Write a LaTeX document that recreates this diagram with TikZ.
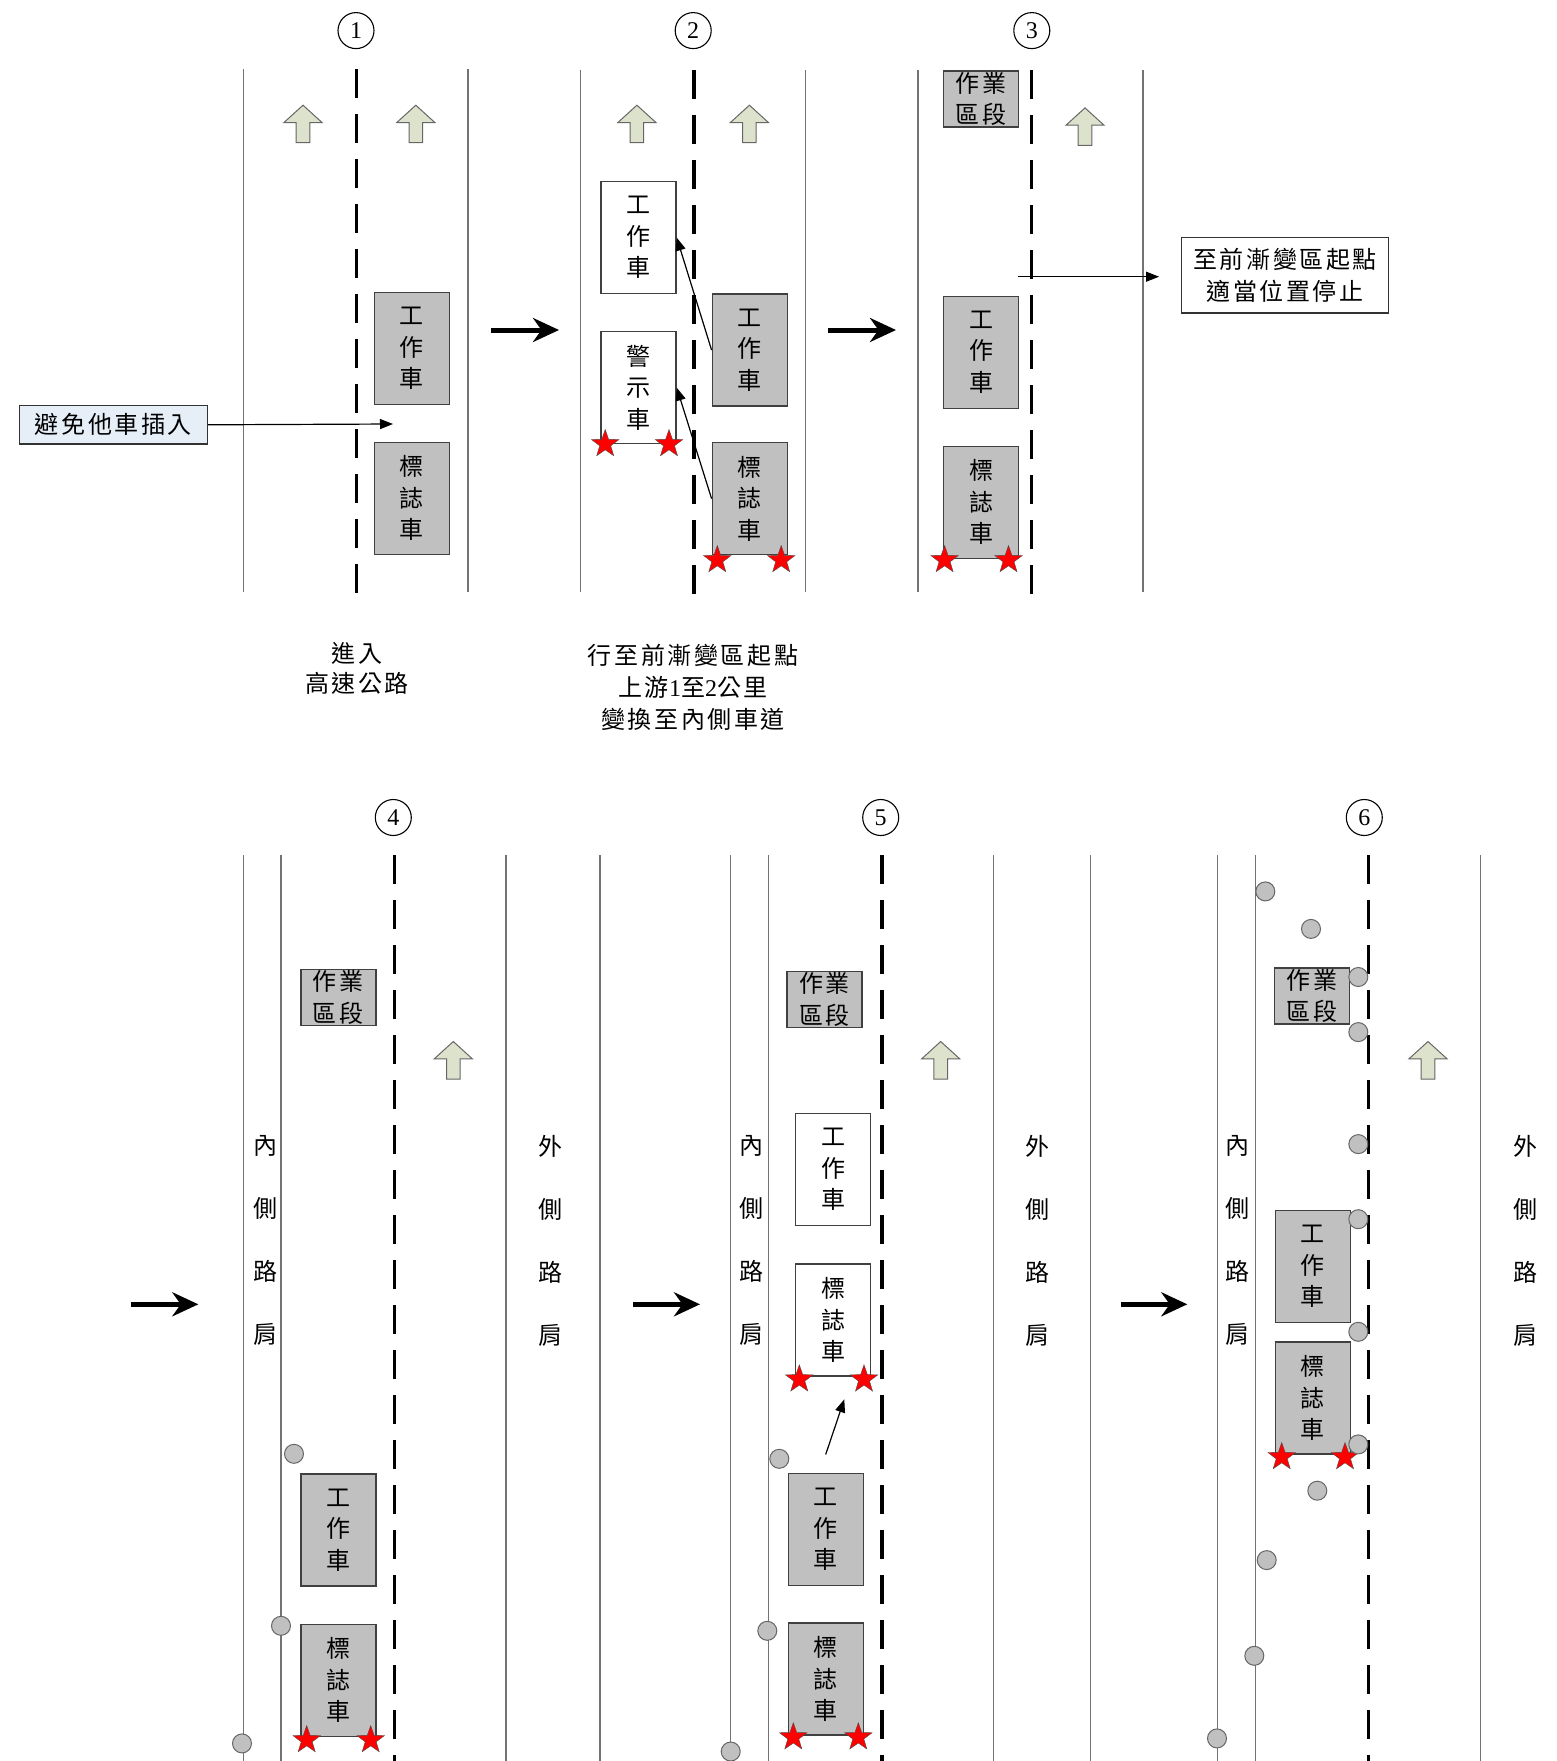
\documentclass[tikz,border=0pt]{standalone}
\usepackage{fontspec}
\setmainfont{Liberation Serif}
\newfontfamily\tc{Noto Sans CJK TC}
\newfontfamily\tcs[LetterSpace=11]{Noto Sans CJK TC}
\usetikzlibrary{arrows.meta,shapes.geometric}
\definecolor{silver}{HTML}{C0C0C0}
\definecolor{sage}{HTML}{DDE2CD}
\definecolor{paleblue}{HTML}{E6EEF8}
% lane direction arrow, tip at (#1,#2)
\newcommand{\uparr}[2]{\filldraw[fill=sage,draw=black!60,line width=1pt] (#1,#2) -- ++(19,17.3) -- ++(-12.2,0) -- ++(0,20.2) -- ++(-13.6,0) -- ++(0,-20.2) -- ++(-12.2,0) -- cycle;}

\begin{document}
\begin{tikzpicture}[x=1pt,y=-1pt,>={Triangle[length=13pt,width=10pt]},
  every node/.style={font=\tc\fontsize{24}{31.5}\selectfont},
  road/.style={line width=1.4pt,draw=black!55},
  mid/.style={line width=3.3pt,dash pattern=on 29pt off 16pt},
  car/.style={draw=black!75,line width=1.4pt,fill=silver,minimum width=75pt,minimum height=112pt,inner sep=0pt,align=center},
  wcar/.style={car,fill=white},
  zone/.style={draw=black!75,line width=1.4pt,fill=silver,minimum width=75pt,minimum height=56pt,inner sep=0pt,align=center,font=\tcs\fontsize{24}{31.5}\selectfont},
  num/.style={circle,draw,line width=1.1pt,fill=white,minimum size=36pt,inner sep=0pt,font=\rmfamily\fontsize{24}{24}\selectfont},
  flash/.style={star,star points=5,star point ratio=2.5,draw=black!70,fill=red,minimum size=29pt,inner sep=0pt},
  cone/.style={circle,draw=black!60,line width=1pt,fill=silver,minimum size=19pt,inner sep=0pt},
  bigarr/.style={-{Stealth[length=26pt,width=24pt]},line width=5pt},
  thin/.style={->,line width=1.2pt},
  note/.style={draw=black!80,line width=1.3pt,inner sep=0pt,align=center,font=\tcs\fontsize{24}{32.5}\selectfont},
  side/.style={align=center,font=\tc\fontsize{24}{63}\selectfont}]
\useasboundingbox (0,0) rectangle (1557,1761);

% ---- step 1
\draw[road] (243.2,69) -- (243.2,592); \draw[mid] (356.4,69) -- (356.4,594); \draw[road] (467.9,69) -- (467.9,592);
\node[num] (n1) at (356,30.6) {1};
\uparr{303}{105.2} \uparr{415.8}{105.2}
\node[car] (wk1) at (411.8,348.7) {工\\作\\車};
\node[car] (sg1) at (411.8,498.4) {標\\誌\\車};
\node[draw=black!80,line width=1.3pt,fill=paleblue,minimum width=187.5pt,minimum height=38.3pt,inner sep=0pt,font=\tcs\fontsize{24}{26}\selectfont] (cut) at (113.4,424.8) {避免他車插入};
\coordinate (gap1) at (393,424);
\draw[thin] (cut.east) -- (gap1);
\node[align=center,font=\tcs\fontsize{24}{30}\selectfont] (t1) at (357,668) {進入\\高速公路};
\coordinate (b1s) at (491,330); \coordinate (b1e) at (559,330);
\draw[bigarr] (b1s) -- (b1e);

% ---- step 2
\draw[road] (580.3,70) -- (580.3,592); \draw[mid] (693.9,70) -- (693.9,594); \draw[road] (805.3,70) -- (805.3,592);
\node[num] (n2) at (693.2,30.6) {2};
\uparr{636.9}{105.2} \uparr{749.4}{105.2}
\node[wcar] (wk2n) at (638.5,237.6) {工\\作\\車};
\node[wcar] (wn2) at (638.5,387.6) {警\\示\\車};
\node[car] (wk2) at (749.8,350.1) {工\\作\\車};
\node[car] (sg2) at (749.8,498.7) {標\\誌\\車};
\node[flash] (s2a) at (605.2,444) {}; \node[flash] (s2b) at (669,444) {};
\node[flash] (s2c) at (717.3,560) {}; \node[flash] (s2d) at (781.2,560) {};
\draw[thin] (wk2.west) -- (wk2n.east);
\draw[thin] (sg2.west) -- (wn2.east);
\node[align=center,font=\tcs\fontsize{24}{32}\selectfont] (t2) at (693,687) {行至前漸變區起點\\上游{\rmfamily 1}至{\rmfamily 2}公里\\變換至內側車道};
\coordinate (b2s) at (828,330); \coordinate (b2e) at (896,330);
\draw[bigarr] (b2s) -- (b2e);

% ---- step 3
\draw[road] (917.8,70) -- (917.8,592); \draw[mid] (1031.4,70) -- (1031.4,596); \draw[road] (1142.8,70) -- (1142.8,592);
\node[num] (n3) at (1031.8,30.6) {3};
\node[zone] (zn3) at (981.1,98.9) {作業\\區段};
\uparr{1085}{107.9}
\node[car] (wk3) at (981.1,352.2) {工\\作\\車};
\node[car] (sg3) at (981.1,502.2) {標\\誌\\車};
\node[flash] (s3a) at (944.6,560) {}; \node[flash] (s3b) at (1008.5,560) {};
\node[note,minimum width=206.6pt,minimum height=75.8pt] (stopnote) at (1285,275.1) {至前漸變區起點\\適當位置停止};
\coordinate (stop3) at (1018.3,276.7);
\draw[thin,shorten >=22pt] (stop3) -- (stop3 -| stopnote.west);

% ---- step 4
\draw[road] (243.7,855) -- (243.7,1761); \draw[road] (281,855) -- (281,1761); \draw[mid] (394.3,855) -- (394.3,1761);
\draw[road] (506,855) -- (506,1761); \draw[road] (600,855) -- (600,1761);
\node[num] (n4) at (393.3,817.5) {4};
\coordinate (b3s) at (131,1304.3); \coordinate (b3e) at (198.3,1304.3);
\draw[bigarr] (b3s) -- (b3e);
\node[side] (in4) at (265.7,1240.4) {內\\側\\路\\肩};
\node[side] (out4) at (550.7,1240.4) {外\\側\\路\\肩};
\node[zone] (zn4) at (338.3,997.5) {作業\\區段};
\uparr{453.3}{1041.5}
\node[cone] (c4a) at (294,1453.8) {}; \node[cone] (c4b) at (281,1625.8) {}; \node[cone] (c4c) at (242,1743.4) {};
\node[car] (wk4) at (338.3,1530.1) {工\\作\\車};
\node[car] (sg4) at (338.3,1680.3) {標\\誌\\車};
\node[flash] (s4a) at (306.7,1740) {}; \node[flash] (s4b) at (370.7,1740) {};

% ---- step 5
\draw[road] (730.7,855) -- (730.7,1761); \draw[road] (768.3,855) -- (768.3,1761); \draw[mid] (882,855) -- (882,1761);
\draw[road] (993.3,855) -- (993.3,1761); \draw[road] (1090.7,855) -- (1090.7,1761);
\node[num] (n5) at (880.7,817.5) {5};
\coordinate (b4s) at (633.3,1304.3); \coordinate (b4e) at (700,1304.3);
\draw[bigarr] (b4s) -- (b4e);
\node[side] (in5) at (751,1240.4) {內\\側\\路\\肩};
\node[side] (out5) at (1037.7,1240.4) {外\\側\\路\\肩};
\node[zone] (zn5) at (824.5,999.5) {作業\\區段};
\uparr{940.7}{1041.5}
\node[wcar] (wk5n) at (833.2,1169.7) {工\\作\\車};
\node[wcar] (sg5n) at (833.2,1319.9) {標\\誌\\車};
\node[flash] (s5a) at (799.3,1379.3) {}; \node[flash] (s5b) at (864,1379.3) {};
\node[cone] (c5a) at (779.3,1458.8) {}; \node[cone] (c5b) at (767.3,1630.8) {}; \node[cone] (c5c) at (730.7,1751.5) {};
\node[car] (wk5) at (825.7,1529.5) {工\\作\\車};
\node[car] (sg5) at (825.7,1679) {標\\誌\\車};
\node[flash] (s5c) at (793.3,1737.2) {}; \node[flash] (s5d) at (858.3,1737.2) {};
\coordinate (m5s) at (825.7,1454.4); \coordinate (m5e) at (844.3,1399.3);
\draw[thin] (m5s) -- (m5e);

% ---- step 6
\draw[road] (1217.7,855) -- (1217.7,1761); \draw[road] (1255.3,855) -- (1255.3,1761); \draw[mid] (1368.7,855) -- (1368.7,1761);
\draw[road] (1480.3,855) -- (1480.3,1761);
\node[num] (n6) at (1364.3,817.5) {6};
\coordinate (b5s) at (1120.7,1304.3); \coordinate (b5e) at (1187.3,1304.3);
\draw[bigarr] (b5s) -- (b5e);
\node[side] (in6) at (1237.7,1240.4) {內\\側\\路\\肩};
\node[side] (out6) at (1525,1240.4) {外\\側\\路\\肩};
\node[zone] (zn6) at (1311.8,995.8) {作業\\區段};
\uparr{1428}{1041.5}
\node[car] (wk6) at (1312.7,1266.7) {工\\作\\車};
\node[car] (sg6) at (1312.7,1398.1) {標\\誌\\車};
\node[flash] (s6a) at (1281.7,1457) {}; \node[flash] (s6b) at (1345,1457) {};
\node[cone] (c6a) at (1265.3,891.4) {}; \node[cone] (c6b) at (1311,928.9) {};
\node[cone] (c6c) at (1358.3,977) {}; \node[cone] (c6d) at (1358.3,1032.1) {};
\node[cone] (c6e) at (1358.3,1144.1) {}; \node[cone] (c6f) at (1358.3,1219.2) {};
\node[cone] (c6g) at (1358.3,1331.8) {}; \node[cone] (c6h) at (1358.3,1444.4) {};
\node[cone] (c6i) at (1317.3,1490.7) {}; \node[cone] (c6j) at (1266.7,1560.1) {};
\node[cone] (c6k) at (1254.3,1655.8) {}; \node[cone] (c6l) at (1217,1738.4) {};
\end{tikzpicture}
\end{document}
